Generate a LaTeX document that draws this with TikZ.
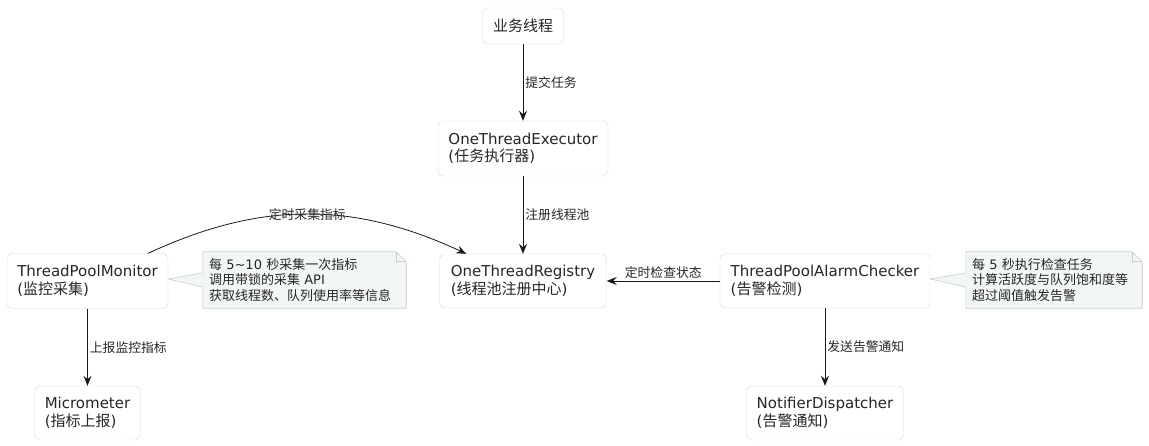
\documentclass[tikz,border=0pt]{standalone}
\usepackage{fontspec}
\setmainfont{DejaVu Sans}
\newfontfamily\zhfont{Noto Sans CJK SC}
\newcommand{\zh}[1]{{\zhfont #1}}
\usetikzlibrary{arrows.meta,backgrounds}
\definecolor{boxline}{HTML}{D3D9DD}
\definecolor{notefill}{HTML}{F3F7F3}
\definecolor{noteline}{HTML}{C4CDD0}
\definecolor{linecol}{HTML}{181818}
\definecolor{txtcol}{HTML}{262626}

\begin{document}
\begin{tikzpicture}[x=1pt, y=1pt,
	box/.style={draw=boxline, fill=white, rounded corners=5pt, align=left, minimum height=55pt, inner xsep=10pt, text=txtcol, font=\fontsize{15}{17.5}\selectfont},
	note/.style={align=left, inner xsep=6pt, minimum height=56pt, text=txtcol, font=\fontsize{13}{15.5}\selectfont},
	arr/.style={draw=linecol, line width=0.8pt, -{Stealth[length=10pt,width=8pt,inset=3.5pt]}},
	lbl/.style={text=txtcol, font=\fontsize{12.8}{15}\selectfont\zhfont, inner sep=2pt}]
		\useasboundingbox (0,0) rectangle (1149,445);
		\node[box, minimum width=81pt, minimum height=36pt] (biz) at (523,419) {\zh{业务线程}};
		\node[box, minimum width=170pt] (exec) at (523,296.5) {OneThreadExecutor\\(\zh{任务执行器})};
		\node[box, minimum width=167pt, minimum height=54pt] (reg) at (523,164) {OneThreadRegistry\\(\zh{线程池注册中心})};
		\node[box, minimum width=161pt] (mon) at (87.5,164) {ThreadPoolMonitor\\(\zh{监控采集})};
		\node[box, minimum width=210pt, minimum height=54pt] (chk) at (825,164) {ThreadPoolAlarmChecker\\(\zh{告警检测})};
		\node[box, minimum width=105pt, minimum height=54pt] (mic) at (87.5,32) {Micrometer\\(\zh{指标上报})};
		\node[box, minimum width=156pt, minimum height=54pt] (ntf) at (825,32) {NotifierDispatcher\\(\zh{告警通知})};
		\node[note, text width=191pt] (n1) at (304.5,165) {\zh{每} 5\textasciitilde10 \zh{秒采集一次指标}\\\zh{调用带锁的采集} API\\\zh{获取线程数、队列使用率等信息}};
		\node[note, text width=164pt] (n2) at (1054,165) {\zh{每} 5 \zh{秒执行检查任务}\\\zh{计算活跃度与队列饱和度等}\\\zh{超过阈值触发告警}};
		\begin{scope}[on background layer]
			\foreach \n/\b in {n1/mon, n2/chk} {
				\filldraw[fill=notefill, draw=noteline, line width=0.6pt] (\n.north west) -- ([xshift=-10pt]\n.north east) -- ([yshift=-10pt]\n.north east) -- (\n.south east) -- (\n.south west) -- cycle;
				\draw[noteline, line width=0.6pt] ([xshift=-10pt]\n.north east) -- ([xshift=-10pt,yshift=-10pt]\n.north east) -- ([yshift=-10pt]\n.north east);
				\fill[notefill] ([yshift=7pt]\n.west) -- ([yshift=2pt]\b.east) -- ([yshift=-7pt]\n.west) -- cycle;
				\draw[noteline, line width=0.6pt] ([yshift=7pt]\n.west) -- ([yshift=2pt]\b.east) -- ([yshift=-7pt]\n.west);
			}
		\end{scope}
		\draw[arr] (biz) -- node[lbl, right] {提交任务} (exec);
		\draw[arr] (exec) -- node[lbl, right] {注册线程池} (reg);
		\draw[arr] ([xshift=-20pt]mon.north east) to[out=25, in=155] node[lbl, pos=0.5] {定时采集指标} ([xshift=27pt]reg.north west);
		\draw[arr] (chk) -- node[lbl, above] {定时检查状态} (reg);
		\draw[arr] (mon) -- node[lbl, right] {上报监控指标} (mic);
		\draw[arr] (chk) -- node[lbl, right] {发送告警通知} (ntf);
\end{tikzpicture}
\end{document}
